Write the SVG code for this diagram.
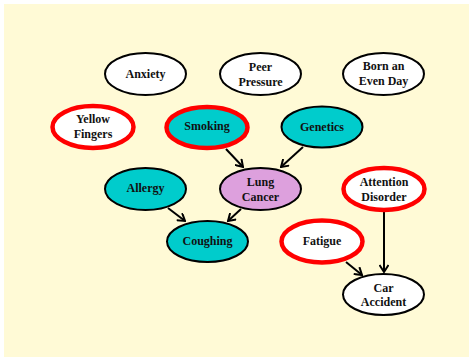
<svg xmlns="http://www.w3.org/2000/svg" width="469" height="357" viewBox="0 0 469 357">
  <style>
    .node { stroke: #000; stroke-width: 2; }
    .obs { stroke: #ff0000; stroke-width: 4.5; }
    .white { fill: #ffffff; }
    .cyan { fill: #00cccc; }
    .plum { fill: #dda0dd; }
    text { font-family: "Liberation Serif", "Times New Roman", serif; font-weight: bold; font-size: 12px; text-anchor: middle; fill: #111; }
    .edge { stroke: #000; stroke-width: 2; fill: none; marker-end: url(#arrow); }
  </style>
  <defs>
    <marker id="arrow" viewBox="0 0 10 10" refX="9" refY="5" markerWidth="10" markerHeight="10" markerUnits="userSpaceOnUse" orient="auto">
      <path d="M2,0.5 L9,5 L2,9.5" fill="none" stroke="#000" stroke-width="2"/>
    </marker>
  </defs>

  <rect x="4" y="4" width="465" height="353" fill="#fffad6"/>

  <g id="connectors">
    <line class="edge" x1="226" y1="149" x2="243" y2="167"/>
    <line class="edge" x1="303" y1="147" x2="281" y2="167"/>
    <line class="edge" x1="168" y1="208" x2="185" y2="221"/>
    <line class="edge" x1="241" y1="209" x2="228" y2="221"/>
    <line class="edge" x1="384" y1="212" x2="384" y2="272"/>
    <line class="edge" x1="346" y1="262" x2="362" y2="275"/>
  </g>

  <g id="anxiety">
    <ellipse class="node white" cx="145.5" cy="74" rx="40.5" ry="21"/>
    <text x="145.5" y="78">Anxiety</text>
  </g>
  <g id="peer-pressure">
    <ellipse class="node white" cx="260.5" cy="74" rx="40.5" ry="21"/>
    <text x="260.5" y="71">Peer</text>
    <text x="260.5" y="86">Pressure</text>
  </g>
  <g id="born-even-day">
    <ellipse class="node white" cx="383.5" cy="74" rx="40.5" ry="21"/>
    <text x="383.5" y="70">Born an</text>
    <text x="383.5" y="85">Even Day</text>
  </g>
  <g id="yellow-fingers">
    <ellipse class="obs white" cx="93" cy="127" rx="40.5" ry="21"/>
    <text x="93" y="123">Yellow</text>
    <text x="93" y="138">Fingers</text>
  </g>
  <g id="smoking">
    <ellipse class="obs cyan" cx="207" cy="127.5" rx="40.5" ry="20.5"/>
    <text x="207" y="130">Smoking</text>
  </g>
  <g id="genetics">
    <ellipse class="node cyan" cx="322" cy="127" rx="40.5" ry="20.5"/>
    <text x="322" y="131">Genetics</text>
  </g>
  <g id="allergy">
    <ellipse class="node cyan" cx="145.5" cy="189" rx="40.5" ry="21"/>
    <text x="145.5" y="192">Allergy</text>
  </g>
  <g id="lung-cancer">
    <ellipse class="node plum" cx="260.5" cy="189" rx="40.5" ry="21"/>
    <text x="260.5" y="186">Lung</text>
    <text x="260.5" y="201">Cancer</text>
  </g>
  <g id="attention-disorder">
    <ellipse class="obs white" cx="384" cy="189" rx="40.5" ry="21"/>
    <text x="384" y="186">Attention</text>
    <text x="384" y="201">Disorder</text>
  </g>
  <g id="coughing">
    <ellipse class="node cyan" cx="207.5" cy="241.5" rx="40.5" ry="20.5"/>
    <text x="207.5" y="245">Coughing</text>
  </g>
  <g id="fatigue">
    <ellipse class="obs white" cx="322" cy="241.5" rx="40.5" ry="21"/>
    <text x="322" y="245">Fatigue</text>
  </g>
  <g id="car-accident">
    <ellipse class="node white" cx="383.5" cy="294.5" rx="40.5" ry="20.5"/>
    <text x="383.5" y="292">Car</text>
    <text x="383.5" y="306">Accident</text>
  </g>
</svg>
